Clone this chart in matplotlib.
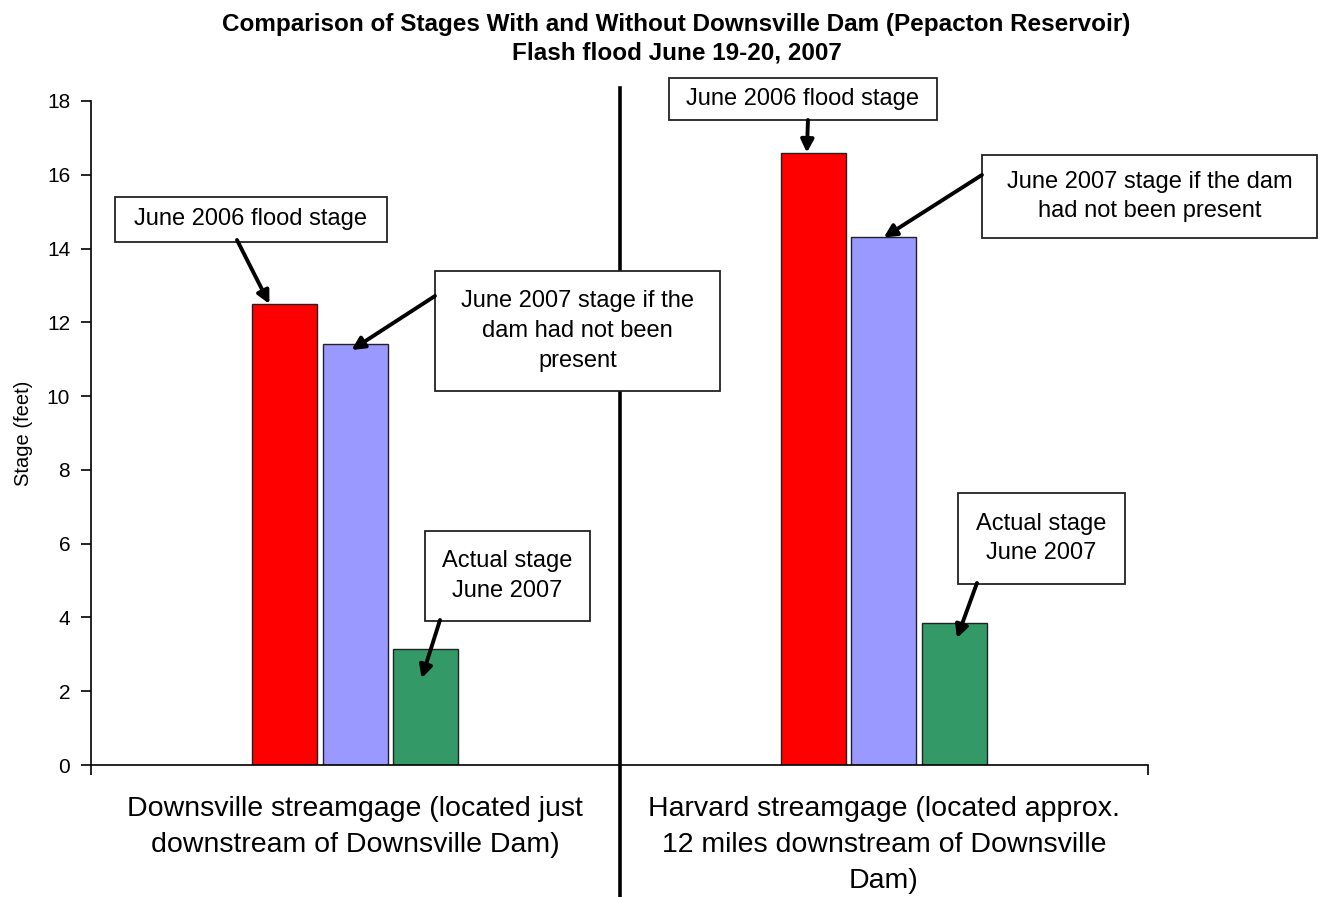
import matplotlib
matplotlib.use("Agg")
import matplotlib.pyplot as plt
from matplotlib.patches import Rectangle
import numpy as np

plt.rcParams['font.family'] = ['Liberation Sans', 'DejaVu Sans']

categories = [
    "Downsville streamgage (located just\ndownstream of Downsville Dam)",
    "Harvard streamgage (located approx.\n12 miles downstream of Downsville\nDam)",
]
flood_2006 = [12.5, 16.6]
no_dam_2007 = [11.4, 14.3]
actual_2007 = [3.15, 3.85]
yticks = [0, 2, 4, 6, 8, 10, 12, 14, 16, 18]

note_flood = "June 2006 flood stage"
note_nodam_left = "June 2007 stage if the\ndam had not been\npresent"
note_nodam_right = "June 2007 stage if the dam\nhad not been present"
note_actual = "Actual stage\nJune 2007"

colors = ["#FF0000", "#9999FF", "#339966"]
series = [flood_2006, no_dam_2007, actual_2007]

fig = plt.figure(figsize=(13.24, 8.97), dpi=100)
ax = fig.add_axes([91 / 1324, 132 / 897, 1057 / 1324, 664 / 897])

x = np.arange(len(categories))
width = 0.123
step = 0.1335
for i, (vals, c) in enumerate(zip(series, colors)):
    ax.bar(x + (i - 1) * step, vals, width=width, color=c,
           edgecolor="#222222", linewidth=1.0, zorder=2)

ax.set_xlim(-0.5, 1.5)
ax.set_ylim(0, 18)
ax.set_yticks(yticks)
ax.set_yticklabels([str(t) for t in yticks], fontsize=15)
ax.set_ylabel("Stage (feet)", fontsize=14.5, labelpad=10)

ax.set_xticks([-0.5, 0.5, 1.5])
ax.set_xticklabels([])
ax.set_xticks(x, minor=True)
ax.set_xticklabels(categories, minor=True, fontsize=20.5, linespacing=1.52)
ax.tick_params(axis="x", which="minor", length=0, pad=22)
ax.tick_params(axis="x", which="major", length=7, width=1.2)
ax.tick_params(axis="y", length=7, width=1.2, pad=8)

for s in ["top", "right"]:
    ax.spines[s].set_visible(False)
ax.spines["left"].set_linewidth(1.2)
ax.spines["bottom"].set_linewidth(1.2)

# divider between the two gages
ax.plot([0.5, 0.5], [-0.2, 1.02], transform=ax.transAxes, color="black",
        linewidth=2.6, clip_on=False, zorder=3)

fig.text(0.511, 0.986,
         "Comparison of Stages With and Without Downsville Dam (Pepacton Reservoir)\nFlash flood June 19-20, 2007",
         ha="center", va="top", fontsize=17.5, fontweight="bold", linespacing=1.35)

# callout boxes: (text, box extent in axes fraction, arrow tail in axes fraction,
#                 series index, group index, tip x offset, tip y offset)
notes = [
    (note_flood, (0.0227, 0.7877, 0.2800, 0.8554), (0.1381, 0.7907), 0, 0, -0.029, 0.0),
    (note_nodam_left, (0.3254, 0.5632, 0.5951, 0.7440), (0.3254, 0.7063), 1, 0, -0.007, -0.15),
    (note_actual, (0.3160, 0.2169, 0.4721, 0.3524), (0.3302, 0.2184), 2, 0, -0.008, -0.80),
    (note_flood, (0.5468, 0.9714, 0.8004, 1.0346), (0.6783, 0.9714), 0, 1, -0.012, 0.0),
    (note_nodam_right, (0.8429, 0.7937, 1.1599, 0.9187), (0.8429, 0.8886), 1, 1, 0.0, 0.0),
    (note_actual, (0.8203, 0.2726, 0.9783, 0.4096), (0.8382, 0.2741), 2, 1, 0.005, -0.41),
]
for txt, (x0, y0, x1, y1), tail, si, gi, dx, dy in notes:
    ax.add_patch(Rectangle((x0, y0), x1 - x0, y1 - y0, transform=ax.transAxes,
                           facecolor="white", edgecolor="#222222", linewidth=1.3,
                           clip_on=False, zorder=5))
    ax.text((x0 + x1) / 2, (y0 + y1) / 2, txt, transform=ax.transAxes,
            ha="center", va="center", fontsize=17, linespacing=1.45,
            zorder=6, clip_on=False)
    tip = (gi + (si - 1) * step + dx, series[si][gi] + dy)
    ax.annotate("", xy=tip, xycoords="data", xytext=tail, textcoords="axes fraction",
                arrowprops=dict(arrowstyle="-|>,head_length=0.75,head_width=0.38",
                                color="black", linewidth=2.8, shrinkA=0, shrinkB=0),
                zorder=7, annotation_clip=False)

fig.savefig("out.png", dpi=100, facecolor="white")
